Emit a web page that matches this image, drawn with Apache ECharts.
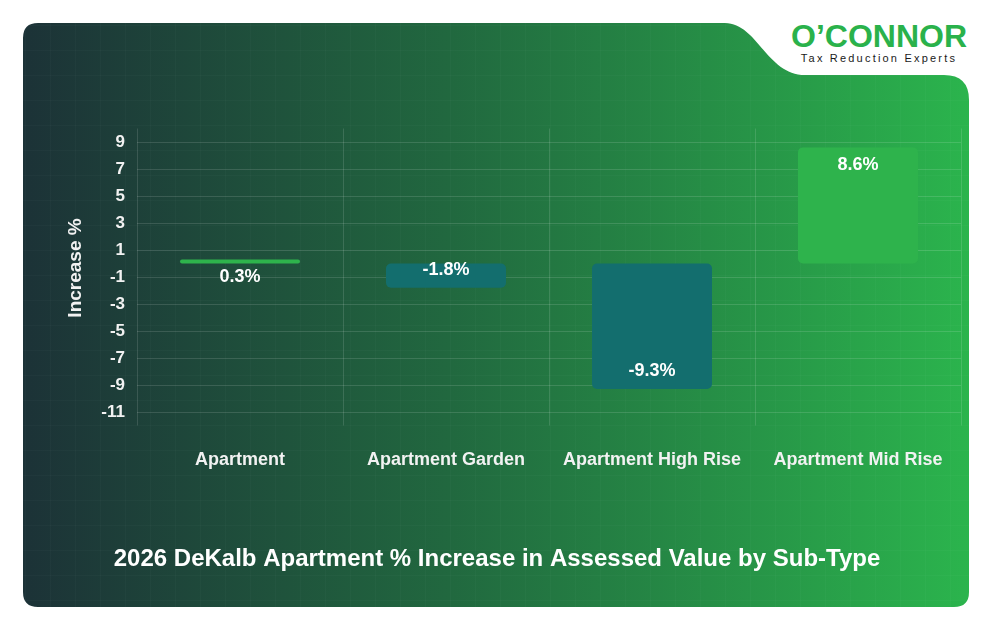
<!DOCTYPE html>
<html>
<head>
<meta charset="utf-8">
<script src="https://cdn.jsdelivr.net/npm/echarts@6.0.0/dist/echarts.min.js"></script>
<style>
html, body { margin: 0; padding: 0; background: #fff; }
#wrap { position: relative; width: 994px; height: 632px; overflow: hidden; }
#card { position: absolute; left: 0; top: 0; }
#logo { position: absolute; left: 779px; top: 20px; width: 200px; text-align: center;
        font-family: "Liberation Sans", Arial, sans-serif; }
#logo .name { font-size: 32px; line-height: 32px; font-weight: bold; color: #2ab24b; }
#logo .tag { font-size: 11px; line-height: 11px; letter-spacing: 2.2px; color: #1a1a1a; margin-top: 1px; }
#chart { position: absolute; left: 0; top: 0; width: 994px; height: 632px; }
</style>
</head>
<body>
<div id="wrap">
  <svg id="card" width="994" height="632">
    <defs>
      <linearGradient id="bg" x1="0" y1="0" x2="1" y2="0">
        <stop offset="0" stop-color="#1c3237"/>
        <stop offset="0.45" stop-color="#21683f"/>
        <stop offset="1" stop-color="#2bb44d"/>
      </linearGradient>
      <pattern id="mesh" width="25" height="25" patternUnits="userSpaceOnUse">
        <path d="M25 0 L0 0 0 25" fill="none" stroke="rgba(255,255,255,0.035)" stroke-width="1"/>
      </pattern>
    </defs>
    <path d="M38 23 L725 23 C757 23 767 75 805 75 L944 75 Q969 75 969 100 L969 592 Q969 607 954 607 L38 607 Q23 607 23 592 L23 38 Q23 23 38 23 Z" fill="url(#bg)"/>
    <path d="M38 23 L725 23 C757 23 767 75 805 75 L944 75 Q969 75 969 100 L969 592 Q969 607 954 607 L38 607 Q23 607 23 592 L23 38 Q23 23 38 23 Z" fill="url(#mesh)"/>
  </svg>
  <div id="logo">
    <div class="name">O’CONNOR</div>
    <div class="tag">Tax Reduction Experts</div>
  </div>
  <div id="chart"></div>
</div>
<script>
// sub-types and their % change in assessed value
const categories = ['Apartment', 'Apartment Garden', 'Apartment High Rise', 'Apartment Mid Rise'];
const increases  = [0.3, -1.8, -9.3, 8.6];

// y range, labels only on odd steps (-11 ... 9)
const yMin  = -12;
const yMax  = 10;
const yStep = 1;

const font     = '"Liberation Sans", Arial, sans-serif';
const posColor = '#2eb34c';
const negColor = '#136e6e';
const gridLine = 'rgba(255,255,255,0.13)';

const chart = echarts.init(document.getElementById('chart'), null, { renderer: 'canvas' });

const barData = increases.map(v => ({
    value: v,
    itemStyle: { color: v >= 0 ? posColor : negColor },
    label: { position: v >= 0 ? 'insideTop' : 'insideBottom' }
}));

const option = {
    backgroundColor: 'transparent',
    animation: false,
    title: {
        text: '2026 DeKalb Apartment % Increase in Assessed Value by Sub-Type',
        left: 'center',
        top: 542,
        textStyle: { color: '#ffffff', fontSize: 24, fontWeight: 'bold', fontFamily: font }
    },
    grid: { left: 137, right: 33, top: 128.5, bottom: 206.5, outerBoundsMode: 'none' },
    xAxis: {
        type: 'category',
        data: categories,
        axisLine: { show: false },
        axisTick: { show: false },
        axisLabel: { interval: 0, color: '#f2f2f2', fontSize: 18, fontWeight: 'bold', fontFamily: font, margin: 26 },
        splitLine: { show: true, interval: 0, lineStyle: { color: gridLine, width: 1 } }
    },
    yAxis: {
        type: 'value',
        min: yMin,
        max: yMax,
        interval: yStep,
        name: 'Increase %',
        nameLocation: 'middle',
        nameRotate: 90,
        nameGap: 52,
        nameTextStyle: { color: '#f2f2f2', fontSize: 19, fontWeight: 'bold', fontFamily: font, padding: [0, 0, 0, 18] },
        axisLine: { show: false },
        axisTick: { show: false },
        axisLabel: {
            color: '#f2f2f2', fontSize: 17, fontWeight: 'bold', fontFamily: font, margin: 12,
            formatter: v => (Math.round(v) % 2 !== 0 ? String(v) : '')
        },
        splitLine: { show: true, lineStyle: { color: ['transparent', gridLine], width: 1 } }
    },
    series: [{
        type: 'bar',
        data: barData,
        barWidth: 120,
        itemStyle: { borderRadius: 5 },
        label: {
            show: true,
            formatter: p => p.value + '%',
            color: '#ffffff',
            fontSize: 18,
            fontWeight: 'bold',
            fontFamily: font,
            distance: 9
        }
    }]
};

chart.setOption(option);
window.addEventListener('resize', chart.resize);
</script>
</body>
</html>
